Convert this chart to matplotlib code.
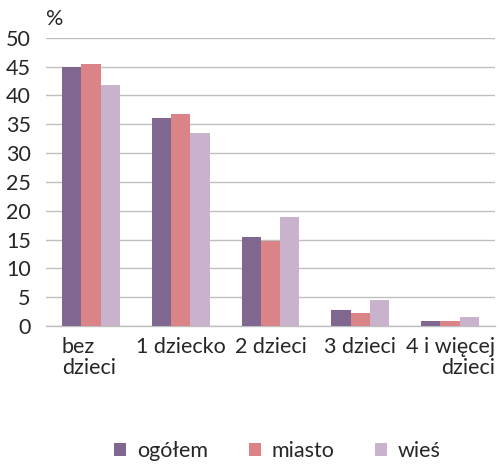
import matplotlib
matplotlib.use("Agg")
import matplotlib.pyplot as plt
import numpy as np
from matplotlib.transforms import blended_transform_factory

plt.rcParams['font.family'] = ['Lato', 'DejaVu Sans']

categories = ["bez\ndzieci", "1 dziecko", "2 dzieci", "3 dzieci", "4 i więcej\ndzieci"]
series_names = ["ogółem", "miasto", "wieś"]
ogolem = [44.9, 36.1, 15.4, 2.7, 0.8]
miasto = [45.5, 36.8, 14.8, 2.2, 0.8]
wies = [41.9, 33.4, 18.9, 4.5, 1.5]
yticks = [0, 5, 10, 15, 20, 25, 30, 35, 40, 45, 50]

colors = ["#80678F", "#DB8487", "#C9B2CC"]
text_color = "#262626"
fs = 15.5

fig = plt.figure(figsize=(5.0, 4.67), dpi=100)
ax = fig.add_axes([0.092, 0.302, 0.898, 0.617])

x = np.arange(len(categories))
w = 0.215
for k, (vals, name, c) in enumerate(zip([ogolem, miasto, wies], series_names, colors)):
    ax.bar(x + (k - 1) * w, vals, width=w, color=c, label=name, zorder=3)

ax.set_xlim(-0.5, len(categories) - 0.5)
ax.set_ylim(0, 50)
ax.set_yticks(yticks)
ax.set_yticklabels([str(v) for v in yticks], fontsize=fs, color=text_color)
ax.tick_params(axis='y', length=0, pad=11)
ax.tick_params(axis='x', length=0)
ax.set_xticks([])
ax.grid(axis='y', color="#BFBFBF", linewidth=1.0, zorder=0)
for s in ["top", "right", "left"]:
    ax.spines[s].set_visible(False)
ax.spines["bottom"].set_color("#BFBFBF")
ax.spines["bottom"].set_linewidth(1.0)

trans = blended_transform_factory(ax.transData, ax.transAxes)
for i, lab in enumerate(categories):
    if i == 0:
        xi, ha = i - 1.5 * w, 'left'
    elif i == len(categories) - 1:
        xi, ha = i + 0.5, 'right'
    else:
        xi, ha = i, 'center'
    ax.text(xi, -0.04, lab, transform=trans, ha=ha, va='top', multialignment=ha,
            fontsize=fs, color=text_color, linespacing=1.05)

ax.text(0.0, 1.03, "%", transform=ax.transAxes, ha='left', va='bottom',
        fontsize=fs, color=text_color)

fig.legend(loc='lower center', bbox_to_anchor=(0.555, -0.028), ncol=3, frameon=False,
           fontsize=fs, handlelength=0.55, handleheight=0.55, handletextpad=0.5,
           columnspacing=1.9, labelcolor=text_color)

fig.savefig("out.png", dpi=100)
